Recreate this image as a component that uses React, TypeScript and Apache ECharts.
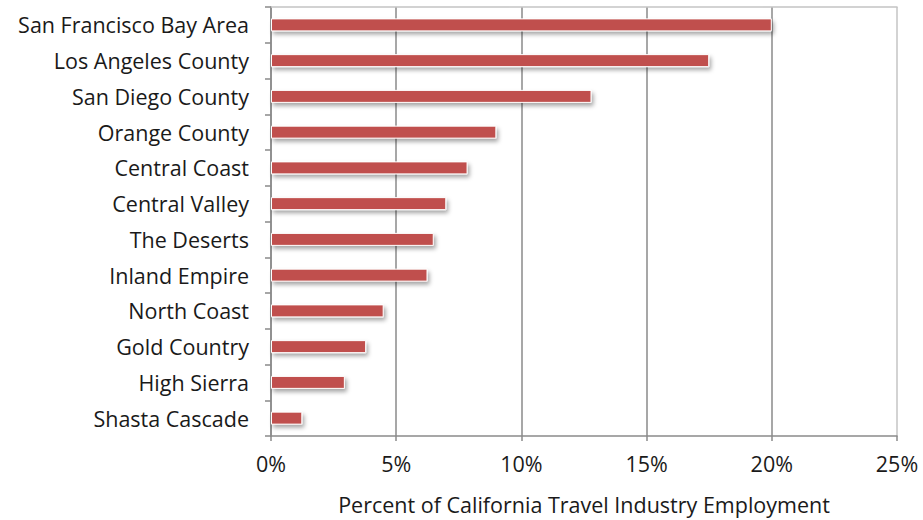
import React, { useEffect, useRef } from "react";
import * as echarts from "echarts";

const categories = [
  "San Francisco Bay Area",
  "Los Angeles County",
  "San Diego County",
  "Orange County",
  "Central Coast",
  "Central Valley",
  "The Deserts",
  "Inland Empire",
  "North Coast",
  "Gold Country",
  "High Sierra",
  "Shasta Cascade",
];
const values = [20.0, 17.5, 12.8, 9.0, 7.85, 7.0, 6.5, 6.25, 4.5, 3.8, 2.95, 1.25];
const xTicks = [0, 5, 10, 15, 20, 25];
const axisTitle = "Percent of California Travel Industry Employment";

const FONT = "Open Sans";
const FS = 21.5;

export default function App() {
  const ref = useRef<HTMLDivElement>(null);
  useEffect(() => {
    if (!ref.current) return;
    const chart = echarts.init(ref.current, undefined, { renderer: "svg" });
    chart.setOption({
      animation: false,
      backgroundColor: "#ffffff",
      grid: { left: 271, right: 26, top: 7, bottom: 80, containLabel: false },
      xAxis: [
        {
          type: "value",
          min: xTicks[0],
          max: xTicks[xTicks.length - 1],
          interval: 5,
          position: "bottom",
          axisLine: { show: true, lineStyle: { color: "#8a8a8a", width: 1.5 } },
          axisTick: { show: true, length: 5, lineStyle: { color: "#8a8a8a", width: 1.5 } },
          axisLabel: {
            formatter: (v: number) => v + "%",
            fontFamily: FONT,
            fontSize: FS,
            color: "#1a1a1a",
            margin: 16,
          },
          splitLine: {
            show: true,
            lineStyle: {
              color: ["#8a8a8a", "#8a8a8a", "#8a8a8a", "#8a8a8a", "#8a8a8a", "#c4c4c4"],
              width: 1.5,
            },
          },
          name: axisTitle,
          nameLocation: "middle",
          nameGap: 57,
          nameTextStyle: { fontFamily: FONT, fontSize: FS, color: "#1a1a1a" },
        },
        {
          type: "value",
          min: 0,
          max: 25,
          interval: 5,
          position: "top",
          axisLine: { show: true, lineStyle: { color: "#c4c4c4", width: 1.5 } },
          axisTick: { show: false },
          axisLabel: { show: false },
          splitLine: { show: false },
        },
      ],
      yAxis: {
        type: "category",
        data: categories,
        inverse: true,
        axisLine: { show: true, lineStyle: { color: "#8a8a8a", width: 1.5 } },
        axisTick: { show: true, length: 6, lineStyle: { color: "#8a8a8a", width: 1.5 } },
        axisLabel: {
          fontFamily: FONT,
          fontSize: FS,
          color: "#1a1a1a",
          margin: 22,
        },
        splitLine: { show: false },
      },
      series: [
        {
          type: "bar",
          xAxisIndex: 0,
          data: values,
          barWidth: 13,
          itemStyle: {
            color: "#C0504D",
            borderColor: "#ffffff",
            borderWidth: 1,
            shadowColor: "rgba(0,0,0,0.35)",
            shadowBlur: 4,
            shadowOffsetX: 2,
            shadowOffsetY: 3,
          },
        },
      ],
    });
    return () => chart.dispose();
  }, []);
  return <div ref={ref} style={{ width: 923, height: 520, position: "absolute", left: 0, top: 0 }} />;
}
